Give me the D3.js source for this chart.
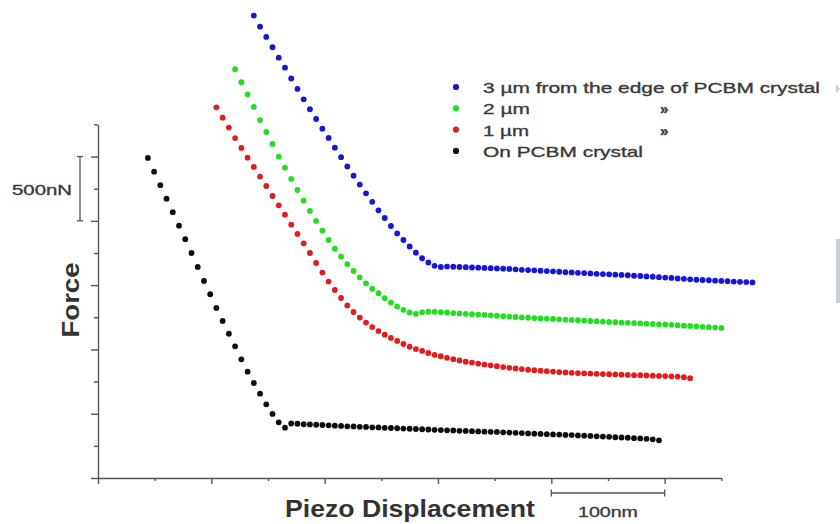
<!DOCTYPE html>
<html><head><meta charset="utf-8">
<script src="https://cdn.jsdelivr.net/npm/d3@7"></script>
<style>
body{margin:0;background:#fff;}
svg{display:block;font-family:"Liberation Sans",Arial,sans-serif;}
</style>
</head><body>
<svg id="chart" width="840" height="524"></svg>
<script>
// Piezo displacement sampling grid (nm)
const displacement = [44,49.5,55,60.5,66,71.5,77,82.5,88,93.5,99,104.5,110,115.5,121,126.5,132,137.5,143,148.5,154,159.5,165,170.5,176,181.5,187,192.5,198,203.5,209,214.5,220,225.5,231,236.5,242,247.5,253,258.5,264,269.5,275,280.5,286,291.5,297,302.5,308,313.5,319,324.5,330,335.5,341,346.5,352,357.5,363,368.5,374,379.5,385,390.5,396,401.5,407,412.5,418,423.5,429,434.5,440,445.5,451,456.5,462,467.5,473,478.5,484,489.5,495,500.5,506,511.5,517,522.5,528,533.5,539,544.5,550,555.5,561,566.5,572,577.5];

// Force (nN); each series starts at the given index of the displacement grid
const startBlack = 0;
const forceBlack = [2489,2382,2277,2172,2067,1962,1857,1750,1641,1532,1429,1322,1221,1122,1024,923,827,739,656,573,498,433,391,
424,422,418,417,414,412,410,407,405,402,401,398,397,394,393,390,389,387,384,383,381,379,377,375,373,371,370,367,366,364,
362,360,359,358,355,353,351,349,347,345,343,341,339,338,335,334,331,329,327,324,322,320,317,315,313,310,308,305,301,293];

const startRed = 11;
const forceRed = [2883,2802,2725,2644,2567,2491,2419,2344,2271,2193,2121,2048,1970,1898,1825,1750,1672,1598,1528,1462,
1400,1342,1291,1248,1209,1174,1143,1115,1089,1066,1042,1021,1003,988,972,958,947,935,924,914,
905,898,890,882,876,870,863,857,852,847,842,838,835,831,828,824,821,818,816,814,
812,810,808,807,805,803,802,800,799,797,796,794,793,791,789,784,776];

const startGreen = 14;
const forceGreen = [3179,3078,2984,2886,2784,2691,2598,2499,2413,2326,2240,2157,2077,1999,1924,1851,1783,1721,1664,1610,
1561,1514,1472,1437,1398,1364,1334,1308,1287,1277,1290,1293,1292,1290,1287,1283,1280,1277,1274,1271,
1268,1265,1262,1258,1255,1252,1249,1247,1244,1241,1239,1237,1234,1231,1229,1227,1224,1221,1219,1216,
1214,1212,1209,1207,1205,1202,1200,1198,1195,1193,1191,1188,1185,1182,1179,1176,1173,1170,1167];

const startBlue = 17;
const forceBlue = [3596,3510,3430,3350,3269,3191,3107,3026,2945,2868,2792,2717,2645,2569,2495,2423,2351,2282,2214,2148,
2082,2022,1960,1902,1851,1801,1752,1709,1676,1650,1641,1644,1643,1641,1640,1637,1636,1634,1632,1630,
1628,1626,1623,1619,1617,1615,1612,1609,1607,1604,1601,1599,1596,1594,1591,1588,1586,1584,1581,1579,
1577,1573,1571,1568,1565,1562,1559,1556,1552,1549,1545,1542,1540,1538,1535,1533,1531,1528,1526,1524,1521];

const seriesNames = ["3 µm from the edge of PCBM crystal", "2 µm", "1 µm", "On PCBM crystal"];
const seriesDitto = ["", "»", "»", ""];
const seriesColors = ["#1414d6", "#22dd22", "#e01c1c", "#111111"];

const xMajorTicks = [0,100,200,300,400,500];
const xMinorTicks = [50,150,250,350,450,550];
const yMajorTicks = [0,500,1000,1500,2000,2500];
const yMinorTicks = [250,750,1250,1750,2250,2750];
const forceBar = [2000, 2500];   // 500 nN scale bar
const dispBar = [400, 500];      // 100 nm scale bar
const forceBarLabel = "500nN";
const dispBarLabel = "100nm";
const xTitle = "Piezo Displacement";
const yTitle = "Force";

const svg = d3.select("#chart");
const defs = svg.append("defs");
defs.append("filter").attr("id", "soft").attr("x", "-5%").attr("y", "-5%").attr("width", "110%").attr("height", "110%")
  .append("feGaussianBlur").attr("stdDeviation", 0.45);

const x = d3.scaleLinear().domain([0, 550]).range([98, 721.3]);
const y = d3.scaleLinear().domain([0, 2750]).range([478, 124.4]);
const axisColor = "#555";

function styleAxis(g){
  g.selectAll("path,line").attr("stroke", axisColor).attr("stroke-width", 1.4);
  g.selectAll("text").remove();
}
// y axis
svg.append("g").attr("transform", `translate(${x(0)},0)`)
  .call(d3.axisLeft(y).tickValues(yMajorTicks).tickSize(7).tickSizeOuter(0).tickFormat(""))
  .call(styleAxis);
svg.append("g").attr("transform", `translate(${x(0)},0)`)
  .call(d3.axisLeft(y).tickValues(yMinorTicks).tickSize(4).tickSizeOuter(0).tickFormat(""))
  .call(g => g.select(".domain").remove()).call(styleAxis);
// x axis
svg.append("g").attr("transform", `translate(0,${y(0)})`)
  .call(d3.axisBottom(x).tickValues(xMajorTicks).tickSize(6).tickSizeOuter(0).tickFormat(""))
  .call(styleAxis);
svg.append("g").attr("transform", `translate(0,${y(0)})`)
  .call(d3.axisBottom(x).tickValues(xMinorTicks).tickSize(3).tickSizeOuter(0).tickFormat(""))
  .call(g => g.select(".domain").remove()).call(styleAxis);

// data series
const series = [
  {start: startBlack, force: forceBlack, color: seriesColors[3]},
  {start: startRed, force: forceRed, color: seriesColors[2]},
  {start: startGreen, force: forceGreen, color: seriesColors[1]},
  {start: startBlue, force: forceBlue, color: seriesColors[0]}
];
const marks = svg.append("g").attr("filter", "url(#soft)");
series.forEach(s => {
  const pts = s.force.map((f, i) => ({d: displacement[s.start + i], f}));
  marks.append("g").selectAll("circle").data(pts).join("circle")
    .attr("cx", p => x(p.d)).attr("cy", p => y(p.f))
    .attr("r", 2.9).attr("fill", s.color);
});

const textStyle = t => t.attr("fill", "#3a3a3a").attr("stroke", "#3a3a3a").attr("stroke-width", 0.35);

// 500 nN scale bar
const fb = svg.append("g").attr("stroke", axisColor).attr("stroke-width", 1.3);
const fbX = 80;
fb.append("line").attr("x1", fbX).attr("x2", fbX).attr("y1", y(forceBar[1])).attr("y2", y(forceBar[0]));
forceBar.forEach(v => fb.append("line").attr("x1", fbX-3).attr("x2", fbX+3).attr("y1", y(v)).attr("y2", y(v)));
svg.append("text").attr("x", 72).attr("y", (y(forceBar[0]) + y(forceBar[1]))/2 + 6)
  .attr("text-anchor", "end").attr("font-size", 15).call(textStyle)
  .attr("textLength", 60).attr("lengthAdjust", "spacingAndGlyphs").text(forceBarLabel);

// 100 nm scale bar
const db = svg.append("g").attr("stroke", axisColor).attr("stroke-width", 1.3);
const dbY = 493;
db.append("line").attr("x1", x(dispBar[0])).attr("x2", x(dispBar[1])).attr("y1", dbY).attr("y2", dbY);
dispBar.forEach(v => db.append("line").attr("x1", x(v)).attr("x2", x(v)).attr("y1", dbY-3.5).attr("y2", dbY+3.5));
svg.append("text").attr("x", (x(dispBar[0]) + x(dispBar[1]))/2).attr("y", 517)
  .attr("text-anchor", "middle").attr("font-size", 15).call(textStyle)
  .attr("textLength", 60).attr("lengthAdjust", "spacingAndGlyphs").text(dispBarLabel);

// axis titles
svg.append("text").attr("x", 410).attr("y", 517).attr("text-anchor", "middle")
  .attr("font-size", 24).attr("font-weight", "bold").attr("fill", "#333")
  .attr("textLength", 250).attr("lengthAdjust", "spacingAndGlyphs").text(xTitle);
svg.append("text").attr("transform", "translate(79,300) rotate(-90)").attr("text-anchor", "middle")
  .attr("font-size", 24).attr("font-weight", "bold").attr("fill", "#333")
  .attr("textLength", 75).attr("lengthAdjust", "spacingAndGlyphs").text(yTitle);

// legend
const legendWidths = [337, 47, 46, 160];
const lg = svg.append("g");
seriesNames.forEach((name, i) => {
  const cy = 87 + i * 21.3;
  lg.append("circle").attr("cx", 456).attr("cy", cy).attr("r", 3.1).attr("fill", seriesColors[i]).attr("filter", "url(#soft)");
  lg.append("text").attr("x", 483).attr("y", cy + 6).attr("font-size", 15).call(textStyle)
    .attr("textLength", legendWidths[i]).attr("lengthAdjust", "spacingAndGlyphs").text(name);
  if (seriesDitto[i]) {
    lg.append("text").attr("x", 660).attr("y", cy + 6).attr("font-size", 15).call(textStyle)
      .attr("font-weight", "bold").text(seriesDitto[i]);
  }
});

// page edge decorations seen on the right border
svg.append("path").attr("d", "M836,84 L840,89 L836,94 Z").attr("fill", "#c6cfdb");
svg.append("rect").attr("x", 836).attr("y", 239).attr("width", 4).attr("height", 64).attr("fill", "#c6cfdb");
</script>
</body></html>
